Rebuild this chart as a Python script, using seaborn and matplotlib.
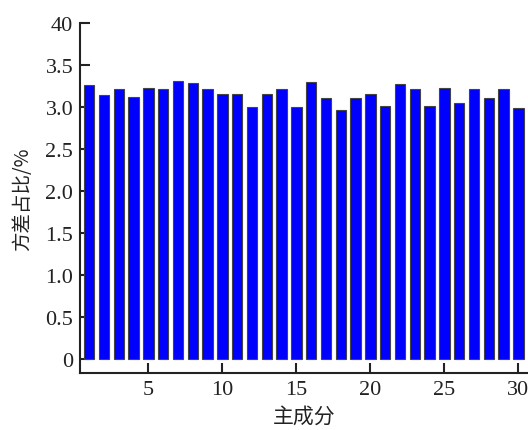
import numpy as np
import pandas as pd
import seaborn as sns
import matplotlib.pyplot as plt

# variance share of each principal component (%)
components = list(range(1, 31))
variance = [3.26, 3.14, 3.22, 3.12, 3.23, 3.22, 3.31, 3.29, 3.22, 3.15,
            3.16, 3.00, 3.16, 3.22, 3.00, 3.30, 3.11, 2.96, 3.11, 3.15,
            3.01, 3.28, 3.22, 3.01, 3.23, 3.05, 3.21, 3.11, 3.22, 2.99]
yticks = [0, 0.5, 1.0, 1.5, 2.0, 2.5, 3.0, 3.5, 4.0]
ytick_labels = ['0', '0.5', '1.0', '1.5', '2.0', '2.5', '3.0', '3.5', '40']
xticks = [5, 10, 15, 20, 25, 30]

df = pd.DataFrame({'pc': components, 'var': variance})

sns.set_style('ticks')
plt.rcParams['font.family'] = ['Liberation Serif', 'Noto Sans CJK SC']

fig = plt.figure(figsize=(5.28, 4.31), dpi=100)
ax = fig.add_axes([0.152, 0.132, 0.848, 0.812])

sns.barplot(data=df, x='pc', y='var', native_scale=True, width=0.7,
            color='#0000ff', saturation=1, edgecolor='#444444', linewidth=0.8, ax=ax)

ax.set_xlim(0.4, 30.65)
ax.set_ylim(-0.17, 4.0)
ax.set_xticks(xticks)
ax.set_xticklabels([str(t) for t in xticks])
ax.set_yticks(yticks)
ax.set_yticklabels(ytick_labels)
ax.tick_params(direction='in', length=7, width=1.5, color='#222222',
               labelsize=16, labelcolor='#222222', pad=5)

for s in ['top', 'right']:
    ax.spines[s].set_visible(False)
for s in ['left', 'bottom']:
    ax.spines[s].set_linewidth(1.5)
    ax.spines[s].set_color('#222222')

cjk = ['Noto Sans CJK SC', 'DejaVu Sans']
ax.set_xlabel('主成分', family=cjk, fontsize=15, color='#222222', labelpad=4)
ax.set_ylabel('方差占比/%', family=cjk, fontsize=14, color='#222222', labelpad=9)

fig.savefig('out.png', dpi=100)
